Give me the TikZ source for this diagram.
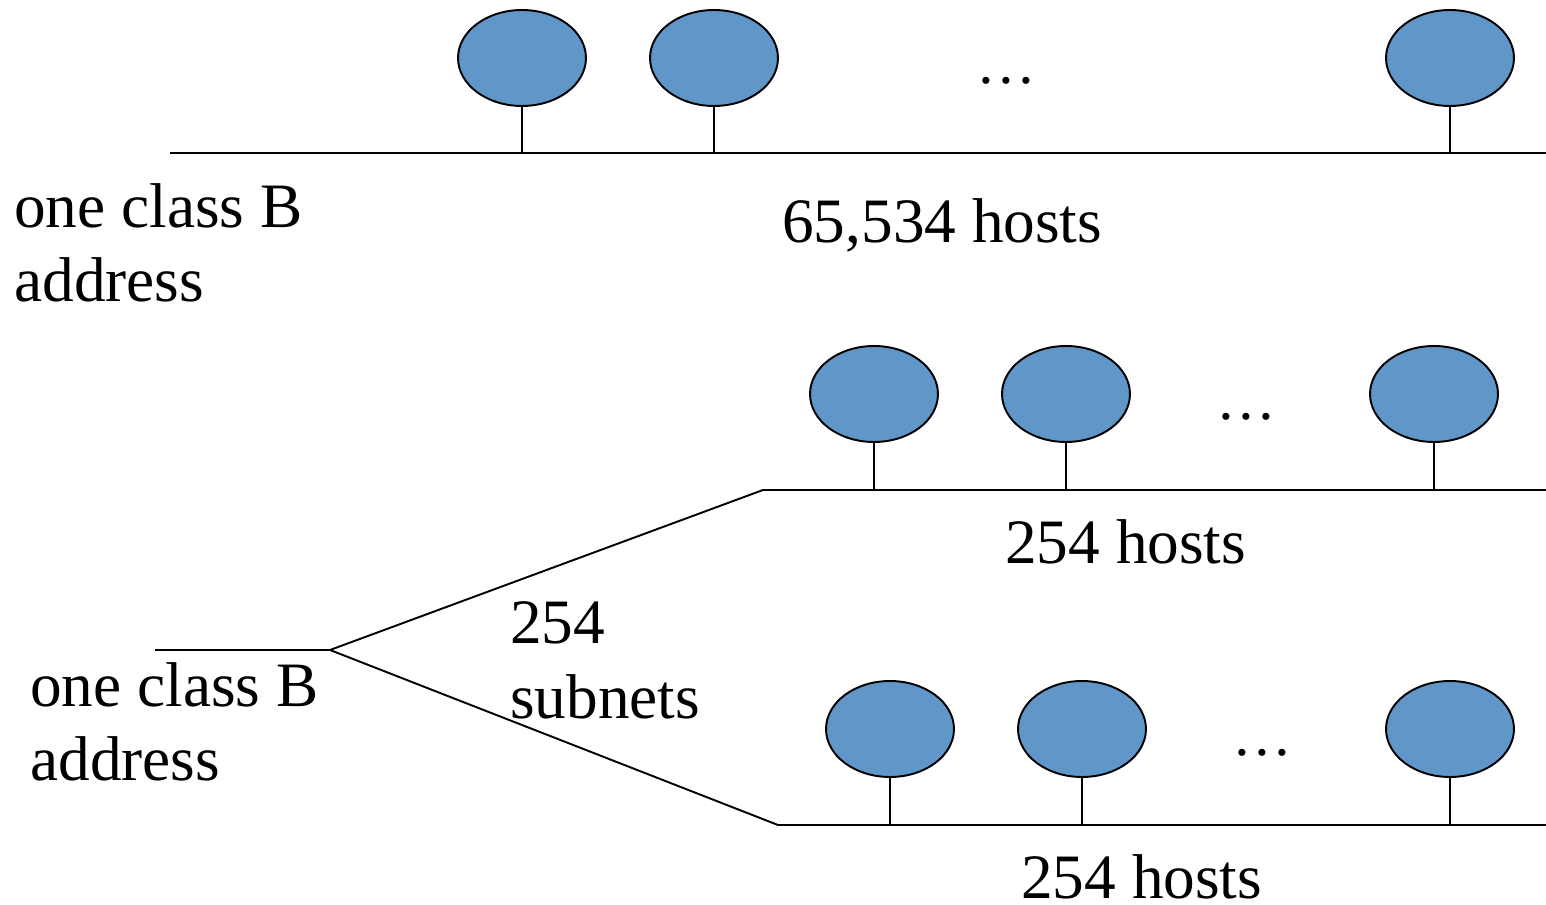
\documentclass[tikz,border=0pt]{standalone}
\usepackage{fontspec}
\setmainfont{Liberation Serif}
\newfontfamily\timesfont{Liberation Serif}
\usetikzlibrary{shapes.geometric}
\definecolor{hostblue}{RGB}{96,150,200}
\begin{document}
\begin{tikzpicture}[x=0.02cm,y=-0.02cm,
  host/.style={ellipse,draw=black,fill=hostblue,line width=1.1pt,minimum width=2.56cm,minimum height=1.92cm,inner sep=0pt},
  wire/.style={line width=1.1pt,draw=black},
  lbl/.style={font=\timesfont\fontsize{36}{44}\selectfont,inner sep=0pt,anchor=base west,align=left},
  dots/.style={font=\timesfont\fontsize{34}{42}\selectfont,inner sep=0pt,anchor=base west}]
\useasboundingbox (0,0) rectangle (1546,905);
% top network
\coordinate (b1l) at (170,153);
\coordinate (b1r) at (1546,153);
\draw[wire] (b1l) -- (b1r);
\node[host] (t1) at (522,58) {};
\node[host] (t2) at (714,58) {};
\node[host] (t3) at (1450,58) {};
\foreach \n in {t1,t2,t3} \draw[wire] (\n.south) -- (\n.south |- b1l);
\node[dots] (tdots) at (976,84) {\ldots};
\node[lbl] (tl1) at (14,228) {one class B};
\node[lbl] (tl2) at (14,302) {address};
\node[lbl] (thosts) at (782,243) {65,534 hosts};
% subnets
\coordinate (s0) at (155,650);
\coordinate (sj) at (330,650);
\coordinate (m1l) at (763,490);
\coordinate (m1r) at (1546,490);
\coordinate (m2l) at (778,825);
\coordinate (m2r) at (1546,825);
\draw[wire] (s0) -- (sj) -- (m1l) -- (m1r);
\draw[wire] (sj) -- (m2l) -- (m2r);
\node[host] (u1) at (874,394) {};
\node[host] (u2) at (1066,394) {};
\node[host] (u3) at (1434,394) {};
\foreach \n in {u1,u2,u3} \draw[wire] (\n.south) -- (\n.south |- m1l);
\node[host] (v1) at (890,729) {};
\node[host] (v2) at (1082,729) {};
\node[host] (v3) at (1450,729) {};
\foreach \n in {v1,v2,v3} \draw[wire] (\n.south) -- (\n.south |- m2l);
\node[dots] (udots) at (1216,420) {\ldots};
\node[dots] (vdots) at (1232,755) {\ldots};
\node[lbl] (uhosts) at (1005,563) {254 hosts};
\node[lbl] (vhosts) at (1021,898) {254 hosts};
\node[lbl] (sn1) at (510,643) {254};
\node[lbl] (sn2) at (510,718) {subnets};
\node[lbl] (bl1) at (30,706) {one class B};
\node[lbl] (bl2) at (30,780) {address};
\end{tikzpicture}
\end{document}
